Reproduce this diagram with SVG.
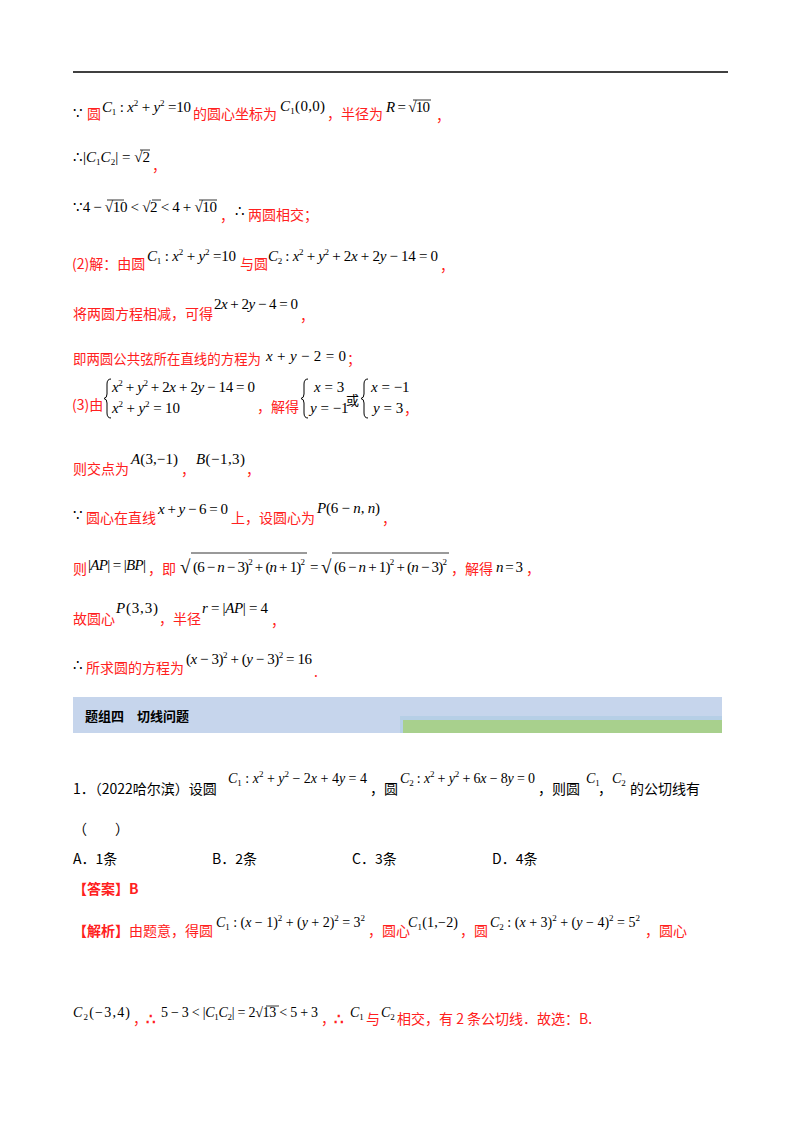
<svg xmlns="http://www.w3.org/2000/svg" width="800" height="1132" viewBox="0 0 800 1132">
<style>
.r{fill:#ff2020;font-family:"Noto Sans CJK SC",sans-serif;font-size:14px}
.k{fill:#000;font-family:"Noto Sans CJK SC",sans-serif;font-size:14px}
.m{fill:#000;font-family:"Liberation Serif",serif;font-size:15px}
.mr{fill:#ff2020;font-family:"Liberation Serif",serif;font-size:15px}
.i{font-style:italic}
.s{font-size:9px}
.ov{stroke:#000;stroke-width:0.8}
.bp{fill:none;stroke:#000;stroke-width:1}
</style>
<defs>
<path id="brace" d="M5,0 Q1,0 1,5 L1,15 Q1,19 -2,19.5 Q1,20 1,24 L1,34 Q1,39 5,39" class="bp"/>
</defs>
<rect width="800" height="1132" fill="#fff"/>
<line x1="73" y1="72" x2="728" y2="72" stroke="#000" stroke-width="1.5"/>

<!-- line 1 -->
<text x="73" y="118" class="m">∵</text>
<text x="87" y="119" class="r">圆</text>
<text x="102" y="112" class="m" textLength="89" lengthAdjust="spacing"><tspan class="i">C</tspan><tspan class="s" baseline-shift="-3">1</tspan> : <tspan class="i">x</tspan><tspan class="s" baseline-shift="6">2</tspan> + <tspan class="i">y</tspan><tspan class="s" baseline-shift="6">2</tspan> =10</text>
<text x="193" y="119" class="r">的圆心坐标为</text>
<text x="280" y="111" class="m" textLength="45" lengthAdjust="spacing"><tspan class="i">C</tspan><tspan class="s" baseline-shift="-3">1</tspan>(0,0)</text>
<text x="327" y="119" class="r">，半径为</text>
<text x="386" y="112" class="m" textLength="44" lengthAdjust="spacing"><tspan class="i">R</tspan> = √10</text>
<line x1="413" y1="100" x2="431" y2="100" class="ov"/>
<text x="436" y="121" class="r">，</text>

<!-- line 2 -->
<text x="73" y="162" class="m" textLength="77" lengthAdjust="spacing">∴|<tspan class="i">C</tspan><tspan class="s" baseline-shift="-3">1</tspan><tspan class="i">C</tspan><tspan class="s" baseline-shift="-3">2</tspan>| = √2</text>
<line x1="140" y1="150" x2="150" y2="150" class="ov"/>
<text x="152" y="171" class="r">，</text>

<!-- line 3 -->
<text x="73" y="212" class="m" textLength="144" lengthAdjust="spacing">∵4 − √10 &lt; √2 &lt; 4 + √10</text>
<line x1="107" y1="200" x2="124" y2="200" class="ov"/>
<line x1="152" y1="200" x2="161" y2="200" class="ov"/>
<line x1="199" y1="200" x2="217" y2="200" class="ov"/>
<text x="220" y="221" class="r">，</text>
<text x="235" y="216" class="m">∴</text>
<text x="248" y="220" class="r">两圆相交；</text>

<!-- line 4 -->
<text x="72" y="269" class="r">(2)解：由圆</text>
<text x="147" y="261" class="m" textLength="89" lengthAdjust="spacing"><tspan class="i">C</tspan><tspan class="s" baseline-shift="-3">1</tspan> : <tspan class="i">x</tspan><tspan class="s" baseline-shift="6">2</tspan> + <tspan class="i">y</tspan><tspan class="s" baseline-shift="6">2</tspan> =10</text>
<text x="240" y="269" class="r">与圆</text>
<text x="268" y="261" class="m" textLength="170" lengthAdjust="spacing"><tspan class="i">C</tspan><tspan class="s" baseline-shift="-3">2</tspan> : <tspan class="i">x</tspan><tspan class="s" baseline-shift="6">2</tspan> + <tspan class="i">y</tspan><tspan class="s" baseline-shift="6">2</tspan> + 2<tspan class="i">x</tspan> + 2<tspan class="i">y</tspan> − 14 = 0</text>
<text x="440" y="271" class="r">，</text>

<!-- line 5 -->
<text x="73" y="319" class="r">将两圆方程相减，可得</text>
<text x="214" y="309" class="m" textLength="84" lengthAdjust="spacing">2<tspan class="i">x</tspan> + 2<tspan class="i">y</tspan> − 4 = 0</text>
<text x="300" y="321" class="r">，</text>

<!-- line 6 -->
<text x="73" y="364" class="r" textLength="188" lengthAdjust="spacingAndGlyphs">即两圆公共弦所在直线的方程为</text>
<text x="266" y="361" class="m" textLength="80" lengthAdjust="spacing"><tspan class="i">x</tspan> + <tspan class="i">y</tspan> − 2 = 0</text>
<text x="347" y="364" class="r">；</text>

<!-- line 7 -->
<text x="72" y="410" class="r">(3)由</text>
<use href="#brace" x="106" y="379"/>
<text x="112" y="392" class="m" textLength="143" lengthAdjust="spacing"><tspan class="i">x</tspan><tspan class="s" baseline-shift="6">2</tspan> + <tspan class="i">y</tspan><tspan class="s" baseline-shift="6">2</tspan> + 2<tspan class="i">x</tspan> + 2<tspan class="i">y</tspan> − 14 = 0</text>
<text x="112" y="413" class="m" textLength="68" lengthAdjust="spacing"><tspan class="i">x</tspan><tspan class="s" baseline-shift="6">2</tspan> + <tspan class="i">y</tspan><tspan class="s" baseline-shift="6">2</tspan> = 10</text>
<text x="257" y="412" class="r">，解得</text>
<use href="#brace" x="303" y="379"/>
<text x="314" y="392" class="m"><tspan class="i">x</tspan> = 3</text>
<text x="310" y="413" class="m"><tspan class="i">y</tspan> = −1</text>
<text x="346" y="405" class="k" style="font-size:13px">或</text>
<use href="#brace" x="363" y="379"/>
<text x="371" y="392" class="m"><tspan class="i">x</tspan> = −1</text>
<text x="373" y="413" class="m"><tspan class="i">y</tspan> = 3</text>
<text x="404" y="414" class="r">，</text>

<!-- line 8 -->
<text x="73" y="474" class="r">则交点为</text>
<text x="131" y="464" class="m" textLength="47" lengthAdjust="spacing"><tspan class="i">A</tspan>(3,−1)</text>
<text x="181" y="475" class="r">，</text>
<text x="196" y="464" class="m" textLength="49" lengthAdjust="spacing"><tspan class="i">B</tspan>(−1,3)</text>
<text x="246" y="475" class="r">，</text>

<!-- line 9 -->
<text x="73" y="520" class="m">∵</text>
<text x="86" y="523" class="r">圆心在直线</text>
<text x="158" y="514" class="m" textLength="70" lengthAdjust="spacing"><tspan class="i">x</tspan> + <tspan class="i">y</tspan> − 6 = 0</text>
<text x="231" y="523" class="r">上，设圆心为</text>
<text x="317" y="513" class="m" textLength="63" lengthAdjust="spacing"><tspan class="i">P</tspan>(6 − <tspan class="i">n</tspan>, <tspan class="i">n</tspan>)</text>
<text x="382" y="524" class="r">，</text>

<!-- line 10 -->
<text x="73" y="574" class="r">则</text>
<text x="88" y="570" class="m" textLength="58" lengthAdjust="spacing">|<tspan class="i">AP</tspan>| = |<tspan class="i">BP</tspan>|</text>
<text x="148" y="574" class="r">，即</text>
<text x="180" y="573" class="m" style="font-size:19px">√</text>
<line x1="191" y1="553" x2="307" y2="553" class="ov"/>
<text x="193" y="572" class="m" textLength="112" lengthAdjust="spacing">(6 − <tspan class="i">n</tspan> − 3)<tspan class="s" baseline-shift="7">2</tspan> + (<tspan class="i">n</tspan> + 1)<tspan class="s" baseline-shift="7">2</tspan></text>
<text x="310" y="572" class="m">=</text>
<text x="321" y="573" class="m" style="font-size:19px">√</text>
<line x1="332" y1="553" x2="449" y2="553" class="ov"/>
<text x="334" y="572" class="m" textLength="113" lengthAdjust="spacing">(6 − <tspan class="i">n</tspan> + 1)<tspan class="s" baseline-shift="7">2</tspan> + (<tspan class="i">n</tspan> − 3)<tspan class="s" baseline-shift="7">2</tspan></text>
<text x="451" y="574" class="r">，解得</text>
<text x="496" y="572" class="m" textLength="27" lengthAdjust="spacing"><tspan class="i">n</tspan> = 3</text>
<text x="526" y="574" class="r">，</text>

<!-- line 11 -->
<text x="73" y="624" class="r">故圆心</text>
<text x="116" y="613" class="m" textLength="42" lengthAdjust="spacing"><tspan class="i">P</tspan>(3,3)</text>
<text x="159" y="624" class="r">，半径</text>
<text x="202" y="613" class="m" textLength="66" lengthAdjust="spacing"><tspan class="i">r</tspan> = |<tspan class="i">AP</tspan>| = 4</text>
<text x="271" y="626" class="r">，</text>

<!-- line 12 -->
<text x="73" y="670" class="m">∴</text>
<text x="86" y="673" class="r">所求圆的方程为</text>
<text x="186" y="664" class="m" textLength="126" lengthAdjust="spacing">(<tspan class="i">x</tspan> − 3)<tspan class="s" baseline-shift="6">2</tspan> + (<tspan class="i">y</tspan> − 3)<tspan class="s" baseline-shift="6">2</tspan> = 16</text>
<text x="314" y="677" class="r">.</text>

<!-- header band -->
<g id="header">
<rect x="73" y="697" width="649" height="36" fill="#c6d5ec"/>
<rect x="400" y="716" width="322" height="17" fill="#b6cfe6"/>
<rect x="403" y="720" width="319" height="13" fill="#a8d08d"/>
<text x="85" y="721" class="k" font-weight="bold" style="font-size:13px">题组四　切线问题</text>
</g>

<!-- problem -->
<text x="73" y="794" class="k">1．（2022哈尔滨）设圆</text>
<text x="228" y="783" class="m" style="font-size:14px" textLength="139" lengthAdjust="spacing"><tspan class="i">C</tspan><tspan class="s" baseline-shift="-3">1</tspan> : <tspan class="i">x</tspan><tspan class="s" baseline-shift="6">2</tspan> + <tspan class="i">y</tspan><tspan class="s" baseline-shift="6">2</tspan> − 2<tspan class="i">x</tspan> + 4<tspan class="i">y</tspan> = 4</text>
<text x="370" y="794" class="k">，圆</text>
<text x="400" y="783" class="m" style="font-size:14px" textLength="135" lengthAdjust="spacing"><tspan class="i">C</tspan><tspan class="s" baseline-shift="-3">2</tspan> : <tspan class="i">x</tspan><tspan class="s" baseline-shift="6">2</tspan> + <tspan class="i">y</tspan><tspan class="s" baseline-shift="6">2</tspan> + 6<tspan class="i">x</tspan> − 8<tspan class="i">y</tspan> = 0</text>
<text x="538" y="794" class="k">，则圆</text>
<text x="586" y="783" class="m" style="font-size:14px"><tspan class="i">C</tspan><tspan class="s" baseline-shift="-3">1</tspan></text>
<text x="598" y="794" class="k">，</text>
<text x="612" y="783" class="m" style="font-size:14px"><tspan class="i">C</tspan><tspan class="s" baseline-shift="-3">2</tspan></text>
<text x="630" y="794" class="k">的公切线有</text>
<text x="73" y="834" class="k">（　　）</text>
<text x="73" y="864" class="k">A．1条</text>
<text x="212" y="864" class="k">B．2条</text>
<text x="352" y="864" class="k">C．3条</text>
<text x="492" y="864" class="k">D．4条</text>
<text x="73" y="894" class="r" font-weight="bold">【答案】B</text>

<text x="73" y="936" class="r" font-weight="bold">【解析】<tspan font-weight="normal">由题意，得圆</tspan></text>
<text x="216" y="927" class="m" style="font-size:14px" textLength="149" lengthAdjust="spacing"><tspan class="i">C</tspan><tspan class="s" baseline-shift="-3">1</tspan> : (<tspan class="i">x</tspan> − 1)<tspan class="s" baseline-shift="6">2</tspan> + (<tspan class="i">y</tspan> + 2)<tspan class="s" baseline-shift="6">2</tspan> = 3<tspan class="s" baseline-shift="6">2</tspan></text>
<text x="368" y="936" class="r">，圆心</text>
<text x="408" y="927" class="m" style="font-size:14px" textLength="50" lengthAdjust="spacing"><tspan class="i">C</tspan><tspan class="s" baseline-shift="-3">1</tspan>(1,−2)</text>
<text x="460" y="936" class="r">，圆</text>
<text x="490" y="927" class="m" style="font-size:14px" textLength="150" lengthAdjust="spacing"><tspan class="i">C</tspan><tspan class="s" baseline-shift="-3">2</tspan> : (<tspan class="i">x</tspan> + 3)<tspan class="s" baseline-shift="6">2</tspan> + (<tspan class="i">y</tspan> − 4)<tspan class="s" baseline-shift="6">2</tspan> = 5<tspan class="s" baseline-shift="6">2</tspan></text>
<text x="645" y="936" class="r">，圆心</text>

<text x="73" y="1017" class="m" style="font-size:14px" textLength="57" lengthAdjust="spacing"><tspan class="i">C</tspan><tspan class="s" baseline-shift="-3">2</tspan>(−3,4)</text>
<text x="133" y="1024" class="r">，</text>
<text x="146" y="1024" class="mr" font-weight="bold">∴</text>
<text x="161" y="1017" class="m" style="font-size:14px" textLength="157" lengthAdjust="spacing">5 − 3 &lt; |<tspan class="i">C</tspan><tspan class="s" baseline-shift="-3">1</tspan><tspan class="i">C</tspan><tspan class="s" baseline-shift="-3">2</tspan>| = 2√13 &lt; 5 + 3</text>
<line x1="266" y1="1006" x2="279" y2="1006" class="ov"/>
<text x="321" y="1024" class="r">，</text>
<text x="334" y="1024" class="mr" font-weight="bold">∴</text>
<text x="350" y="1017" class="m" style="font-size:14px"><tspan class="i">C</tspan><tspan class="s" baseline-shift="-3">1</tspan></text>
<text x="366" y="1024" class="r">与</text>
<text x="381" y="1017" class="m" style="font-size:14px"><tspan class="i">C</tspan><tspan class="s" baseline-shift="-3">2</tspan></text>
<text x="397" y="1024" class="r">相交，有 2 条公切线．故选：B.</text>
</svg>
